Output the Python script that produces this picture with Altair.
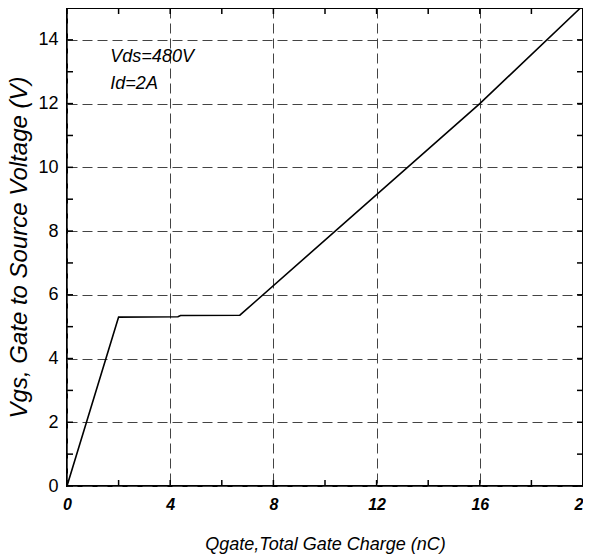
import altair as alt
import pandas as pd

# Gate charge curve
qgate = [0.0, 2.0, 4.3, 4.4, 6.7, 16.0, 19.9]
vgs = [0.0, 5.30, 5.31, 5.35, 5.36, 12.0, 15.0]

x_labels = [0, 4, 8, 12, 16, 20]
y_labels = [0, 2, 4, 6, 8, 10, 12, 14]
x_ticks = [0, 2, 4, 6, 8, 10, 12, 14, 16, 18, 20]
y_ticks = [0, 1, 2, 3, 4, 5, 6, 7, 8, 9, 10, 11, 12, 13, 14, 15]

note_text = ["Vds=480V", "Id=2A"]
note_x = [1.68, 1.68]
note_y = [13.45, 12.63]

W, H = 516, 478

curve = pd.DataFrame({"q": qgate, "v": vgs})
xt = pd.DataFrame({"q": x_ticks})
yt = pd.DataFrame({"v": y_ticks})
notes = pd.DataFrame({"t": note_text, "q": note_x, "v": note_y})

xscale = alt.Scale(domain=[0, 20], nice=False, zero=False)
yscale = alt.Scale(domain=[0, 15], nice=False, zero=False)

xaxis = alt.Axis(
    values=x_labels, grid=True, gridDash=[10, 5], gridColor="#444444", gridWidth=1,
    ticks=False, domain=False, labelFont="Liberation Sans", labelFontStyle="italic",
    labelFontWeight="bold", labelFontSize=16, labelColor="black", labelPadding=10,
    title="Qgate,Total Gate Charge (nC)", titleFont="Liberation Sans",
    titleFontStyle="italic", titleFontWeight="normal", titleFontSize=18,
    titleColor="black", titlePadding=23, labelOverlap=False, labelFlush=False,
)
yaxis = alt.Axis(
    values=y_labels, grid=True, gridDash=[10, 5], gridColor="#444444", gridWidth=1,
    ticks=False, domain=False, labelFont="Liberation Sans", labelFontSize=18,
    labelColor="black", labelPadding=9,
    title="Vgs, Gate to Source Voltage (V)", titleFont="Liberation Sans",
    titleFontStyle="italic", titleFontWeight="normal", titleFontSize=24,
    titleColor="black", titlePadding=6, labelOverlap=False, labelFlush=False,
)

line = alt.Chart(curve).mark_line(color="black", strokeWidth=1.6, clip=True).encode(
    x=alt.X("q:Q", scale=xscale, axis=xaxis),
    y=alt.Y("v:Q", scale=yscale, axis=yaxis),
)

tick_style = dict(color="black", strokeWidth=1.5)
bot = alt.Chart(xt).mark_rule(**tick_style).encode(
    x=alt.X("q:Q", scale=xscale), y=alt.value(H), y2=alt.value(H - 6))
top = alt.Chart(xt).mark_rule(**tick_style).encode(
    x=alt.X("q:Q", scale=xscale), y=alt.value(0), y2=alt.value(6))
left = alt.Chart(yt).mark_rule(**tick_style).encode(
    y=alt.Y("v:Q", scale=yscale), x=alt.value(0), x2=alt.value(6))
right = alt.Chart(yt).mark_rule(**tick_style).encode(
    y=alt.Y("v:Q", scale=yscale), x=alt.value(W), x2=alt.value(W - 6))

text = alt.Chart(notes).mark_text(
    align="left", baseline="middle", font="Liberation Sans", fontStyle="italic",
    fontSize=18, color="black",
).encode(x=alt.X("q:Q", scale=xscale), y=alt.Y("v:Q", scale=yscale), text="t:N")

chart = alt.layer(line, bot, top, left, right, text).properties(
    width=W, height=H,
    autosize=alt.AutoSizeParams(type="none"),
    padding={"left": 59, "top": 0, "right": 0, "bottom": 70},
    background="white",
).configure_view(stroke="black", strokeWidth=2)

chart.save("out.html", embed_options={"renderer": "svg", "actions": False})
